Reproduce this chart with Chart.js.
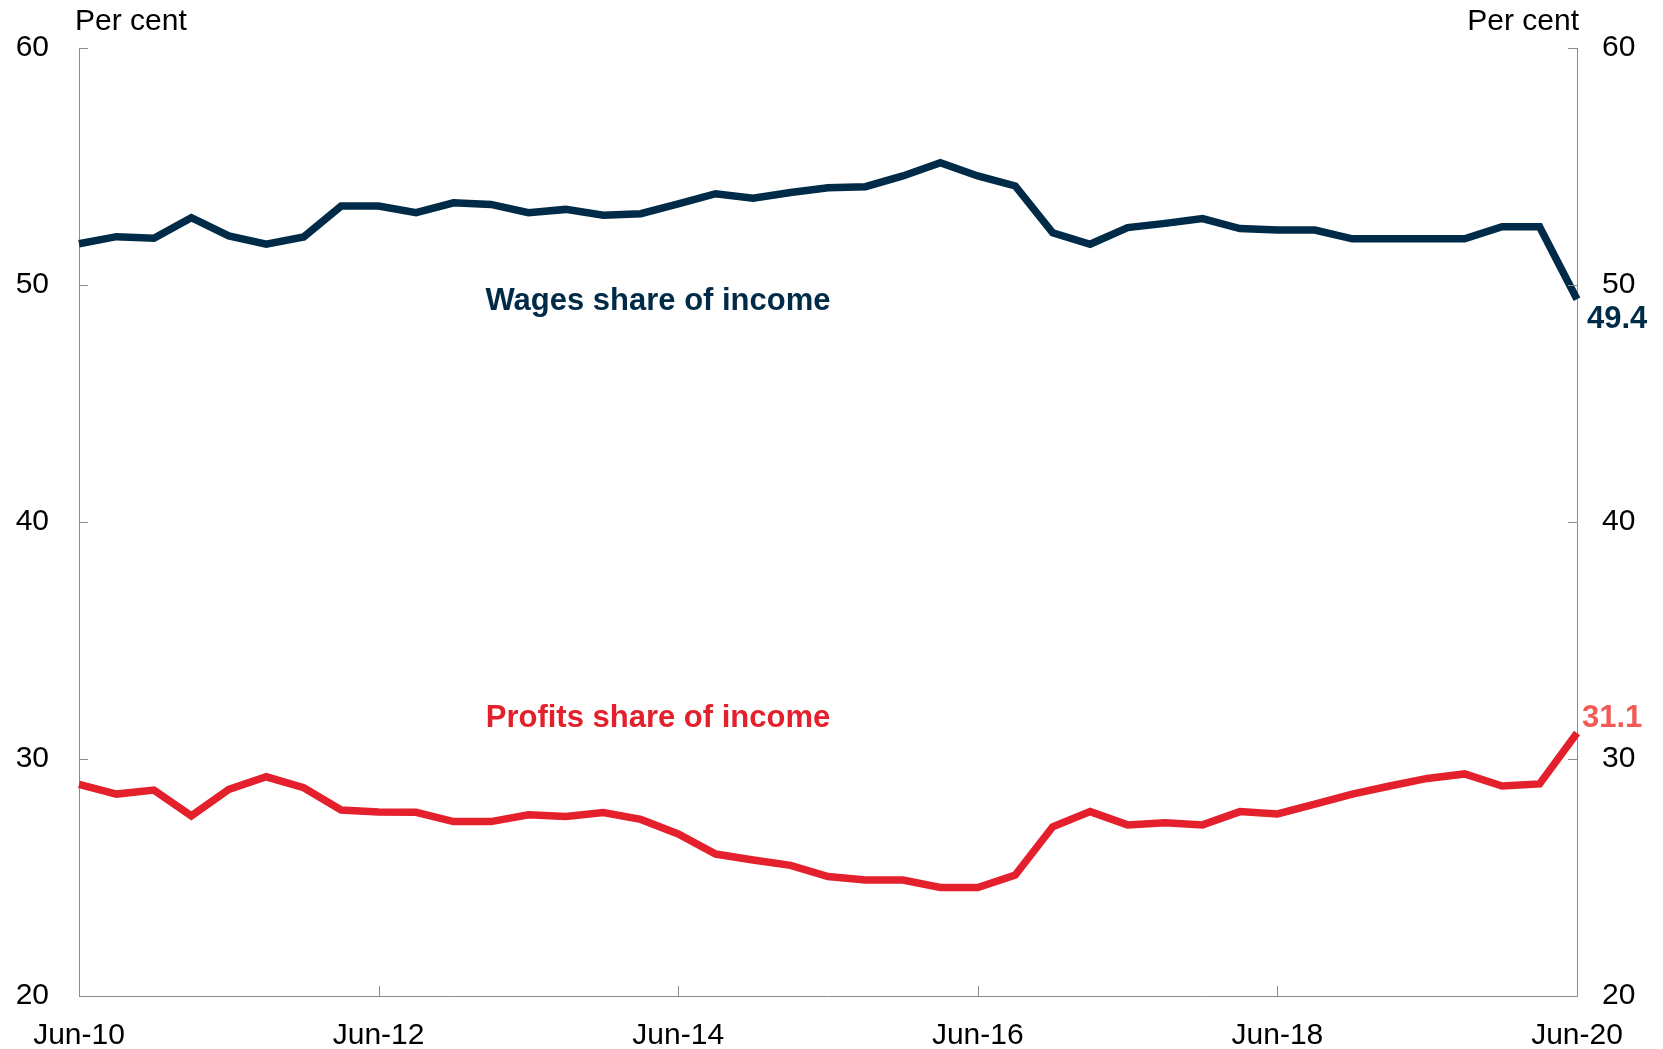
<!DOCTYPE html>
<html>
<head>
<meta charset="utf-8">
<script src="https://cdn.jsdelivr.net/npm/chart.js"></script>
<style>
  html, body { margin: 0; padding: 0; background: #fff; }
  #wrap { width: 1663px; height: 1049px; position: relative; }
</style>
</head>
<body>
<div id="wrap"><canvas id="myChart" width="1663" height="1049"></canvas></div>
<script>
// 資料
const quarters = [
  'Jun-10', 'Sep-10', 'Dec-10', 'Mar-11', 'Jun-11', 'Sep-11', 'Dec-11', 'Mar-12',
  'Jun-12', 'Sep-12', 'Dec-12', 'Mar-13', 'Jun-13', 'Sep-13', 'Dec-13', 'Mar-14',
  'Jun-14', 'Sep-14', 'Dec-14', 'Mar-15', 'Jun-15', 'Sep-15', 'Dec-15', 'Mar-16',
  'Jun-16', 'Sep-16', 'Dec-16', 'Mar-17', 'Jun-17', 'Sep-17', 'Dec-17', 'Mar-18',
  'Jun-18', 'Sep-18', 'Dec-18', 'Mar-19', 'Jun-19', 'Sep-19', 'Dec-19', 'Mar-20',
  'Jun-20'
];
const wagesShare = [
  51.74, 52.04, 51.97, 52.84, 52.07, 51.72, 52.03, 53.33,
  53.33, 53.05, 53.47, 53.40, 53.05, 53.19, 52.94, 53.01,
  53.42, 53.85, 53.66, 53.90, 54.10, 54.15, 54.60, 55.16,
  54.60, 54.18, 52.20, 51.72, 52.42, 52.60, 52.80, 52.38,
  52.32, 52.32, 51.95, 51.95, 51.95, 51.95, 52.46, 52.46,
  49.4
];
const profitsShare = [
  28.93, 28.52, 28.69, 27.60, 28.72, 29.25, 28.79, 27.85,
  27.76, 27.75, 27.36, 27.36, 27.65, 27.57, 27.74, 27.45,
  26.84, 25.99, 25.74, 25.51, 25.04, 24.89, 24.89, 24.58,
  24.58, 25.10, 27.14, 27.78, 27.22, 27.31, 27.22, 27.78,
  27.68, 28.10, 28.52, 28.86, 29.18, 29.37, 28.86, 28.95,
  31.1
];
const xTickLabels = ['Jun-10', 'Jun-12', 'Jun-14', 'Jun-16', 'Jun-18', 'Jun-20'];
const yTicks = [20, 30, 40, 50, 60];

const NAVY = '#002b48';
const RED = '#e3202b';
const AXIS = '#8c8c8c';
const FONT = '"Liberation Sans", Arial, sans-serif';

// 向內的刻度、單位與註記
const annotate = {
  id: 'annotate',
  afterDraw(chart) {
    const ctx = chart.ctx;
    const xs = chart.scales.x;
    const ys = chart.scales.y;
    const area = chart.chartArea;
    ctx.save();
    ctx.strokeStyle = AXIS;
    ctx.lineWidth = 1;
    ctx.beginPath();
    yTicks.forEach((v) => {
      const py = Math.round(ys.getPixelForValue(v)) + 0.5;
      ctx.moveTo(area.left, py); ctx.lineTo(area.left + 9, py);
      ctx.moveTo(area.right, py); ctx.lineTo(area.right - 9, py);
    });
    xTickLabels.forEach((lab) => {
      const px = Math.round(xs.getPixelForValue(quarters.indexOf(lab))) + 0.5;
      ctx.moveTo(px, area.bottom); ctx.lineTo(px, area.bottom - 10);
    });
    ctx.stroke();

    ctx.fillStyle = '#000';
    ctx.font = '30px ' + FONT;
    ctx.textBaseline = 'middle';
    ctx.textAlign = 'left';
    ctx.fillText('Per cent', area.left - 4, 22);
    ctx.textAlign = 'right';
    ctx.fillText('Per cent', area.right + 2, 22);

    ctx.font = 'bold 31px ' + FONT;
    ctx.textAlign = 'center';
    ctx.fillStyle = NAVY;
    ctx.fillText('Wages share of income', xs.getPixelForValue(15.46), ys.getPixelForValue(49.3));
    ctx.fillStyle = RED;
    ctx.fillText('Profits share of income', xs.getPixelForValue(15.46), ys.getPixelForValue(31.72));

    const last = quarters.length - 1;
    ctx.textAlign = 'left';
    ctx.fillStyle = NAVY;
    ctx.fillText(String(wagesShare[last]), area.right + 10, ys.getPixelForValue(wagesShare[last]) + 20);
    ctx.fillStyle = '#f25b55';
    ctx.fillText(String(profitsShare[last]), area.right + 5, ys.getPixelForValue(profitsShare[last]) - 14);
    ctx.restore();
  }
};

const ctx = document.getElementById('myChart').getContext('2d');
new Chart(ctx, {
  type: 'line',
  data: {
    labels: quarters,
    datasets: [
      {
        label: 'Wages share of income',
        data: wagesShare,
        borderColor: NAVY,
        borderWidth: 7.5,
        pointRadius: 0,
        tension: 0,
        yAxisID: 'y'
      },
      {
        label: 'Profits share of income',
        data: profitsShare,
        borderColor: RED,
        borderWidth: 7.5,
        pointRadius: 0,
        tension: 0,
        yAxisID: 'y'
      }
    ]
  },
  options: {
    responsive: false,
    animation: false,
    layout: { padding: { top: 48, left: 0, right: 0, bottom: 0 } },
    plugins: {
      legend: { display: false },
      tooltip: { enabled: false }
    },
    scales: {
      x: {
        type: 'category',
        offset: false,
        grid: { display: true, drawOnChartArea: false, drawTicks: false },
        border: { display: true, color: AXIS, width: 1 },
        ticks: {
          autoSkip: false,
          maxRotation: 0,
          padding: 22,
          color: '#000',
          font: { family: FONT, size: 30 },
          callback: function (value, index) {
            const lab = quarters[index];
            return xTickLabels.includes(lab) ? lab : null;
          }
        },
        afterFit(scale) { scale.height = 53; }
      },
      y: {
        position: 'left',
        min: 20,
        max: 60,
        grid: { display: true, drawOnChartArea: false, drawTicks: false },
        border: { display: true, color: AXIS, width: 1 },
        ticks: {
          stepSize: 10,
          padding: 30,
          color: '#000',
          font: { family: FONT, size: 30 }
        },
        afterBuildTicks(scale) { scale.ticks = yTicks.map((v) => ({ value: v })); },
        afterFit(scale) { scale.width = 79; }
      },
      y2: {
        position: 'right',
        min: 20,
        max: 60,
        grid: { display: true, drawOnChartArea: false, drawTicks: false },
        border: { display: true, color: AXIS, width: 1 },
        ticks: {
          stepSize: 10,
          padding: 25,
          color: '#000',
          font: { family: FONT, size: 30 }
        },
        afterBuildTicks(scale) { scale.ticks = yTicks.map((v) => ({ value: v })); },
        afterFit(scale) { scale.width = 86; }
      }
    }
  },
  plugins: [annotate]
});
</script>
</body>
</html>
